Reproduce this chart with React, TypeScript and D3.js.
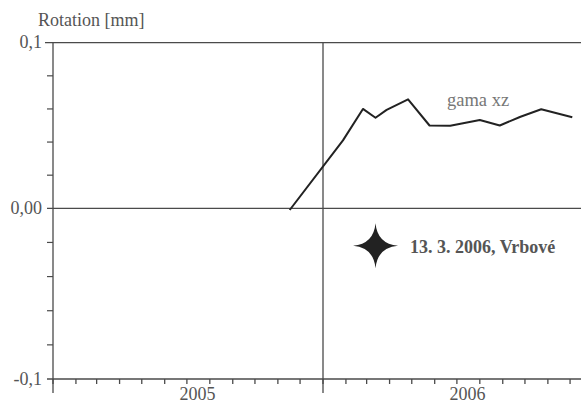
import React from "react";
import * as d3 from "d3";

// measured series (gama xz), dates + rotation values
const dates = [
  "2005-11-17",
  "2006-01-28",
  "2006-02-24",
  "2006-03-13",
  "2006-03-28",
  "2006-04-26",
  "2006-05-25",
  "2006-06-22",
  "2006-08-01",
  "2006-08-28",
  "2006-09-25",
  "2006-10-23",
  "2006-12-04",
];
const gamaXZ = [
  -0.001, 0.041, 0.06, 0.0547, 0.0594, 0.0658, 0.05, 0.0499, 0.0533, 0.05,
  0.0553, 0.0598, 0.055,
];
const years = [2005, 2006];
const yTickValues = [0.1, 0, -0.1];
const yTickLabels = ["0,1", "0,00", "-0,1"];
const eventDate = "2006-03-13";
const eventValue = -0.022;
const eventLabel = "13. 3. 2006, Vrbové";
const seriesLabel = "gama xz";
const yTitle = "Rotation [mm]";

const W = 581;
const H = 405;

export default function App() {
  const parse = d3.timeParse("%Y-%m-%d");
  const x = d3
    .scaleTime()
    .domain([new Date(2005, 0, 1), new Date(2007, 0, 1)])
    .range([53, 593]);
  const y = d3.scaleLinear().domain([-0.1, 0, 0.1]).range([379, 208.3, 42.7]);

  const pts = dates.map((d, i) => ({ date: parse(d) as Date, v: gamaXZ[i] }));
  const path = d3
    .line<{ date: Date; v: number }>()
    .x((d) => x(d.date))
    .y((d) => y(d.v))(pts);

  const months = x.ticks(d3.timeMonth.every(1) as any);
  const minor = d3.range(-0.08, 0.09, 0.02).filter((v) => Math.abs(v) > 0.001);

  const x0 = x.range()[0];
  const axisColor = "#4a4a4a";
  const textColor = "#555";
  const font = "Liberation Serif, Times New Roman, serif";

  // four-point star at the event, concave arms
  const ex = x(parse(eventDate) as Date);
  const ey = y(eventValue);
  const R = 22.5;
  const c = 2.6;
  let starPath = "";
  for (let i = 0; i < 4; i++) {
    const a = (i * Math.PI) / 2;
    const b = a + Math.PI / 4;
    const n = a + Math.PI / 2;
    const p = [ex + R * Math.sin(a), ey - R * Math.cos(a)];
    const q = [ex + c * Math.sin(b), ey - c * Math.cos(b)];
    const e = [ex + R * Math.sin(n), ey - R * Math.cos(n)];
    if (i === 0) starPath += `M${p[0]},${p[1]}`;
    starPath += `Q${q[0]},${q[1]} ${e[0]},${e[1]}`;
  }
  starPath += "Z";

  return (
    <svg
      width={W}
      height={H}
      style={{ position: "absolute", left: 0, top: 0, background: "#fff", fontFamily: font }}
    >
      {/* horizontal reference lines */}
      {yTickValues.map((v) => (
        <line
          key={"h" + v}
          x1={x0 - (v === 0.1 ? 8 : 6)}
          x2={W}
          y1={y(v)}
          y2={y(v)}
          stroke={axisColor}
          strokeWidth={1.3}
        />
      ))}
      {/* minor y ticks */}
      {minor.map((v) => (
        <line
          key={"m" + v}
          x1={x0 - 6}
          x2={x0}
          y1={y(v)}
          y2={y(v)}
          stroke={axisColor}
          strokeWidth={1.2}
        />
      ))}
      {/* left axis */}
      <line x1={x0} x2={x0} y1={y(0.1)} y2={393} stroke={axisColor} strokeWidth={1.3} />
      {/* year divider */}
      <line
        x1={x(new Date(2006, 0, 1))}
        x2={x(new Date(2006, 0, 1))}
        y1={y(0.1)}
        y2={393}
        stroke={axisColor}
        strokeWidth={1.3}
      />
      {/* month ticks */}
      {months.map((m) => (
        <line
          key={+m}
          x1={x(m)}
          x2={x(m)}
          y1={y(-0.1)}
          y2={y(-0.1) + 5}
          stroke={axisColor}
          strokeWidth={1.3}
        />
      ))}
      {/* y tick labels */}
      {yTickValues.map((v, i) => (
        <text
          key={"t" + v}
          x={42}
          y={y(v) + 5.5}
          textAnchor="end"
          fontSize={18}
          fill={textColor}
        >
          {yTickLabels[i]}
        </text>
      ))}
      <text x={38} y={26} fontSize={18} fill={textColor}>
        {yTitle}
      </text>
      {/* year labels */}
      {years.map((yr) => (
        <text
          key={yr}
          x={x(new Date(yr, 6, 10)) + 4}
          y={400}
          textAnchor="middle"
          fontSize={18}
          fill={textColor}
        >
          {yr}
        </text>
      ))}
      {/* series */}
      <path d={path ?? ""} fill="none" stroke="#222" strokeWidth={2} strokeLinejoin="round" />
      <text x={447} y={106} fontSize={18.5} fill="#777">
        {seriesLabel}
      </text>
      {/* event */}
      <path d={starPath} fill="#222" />
      <text x={410} y={252.7} fontSize={18} fontWeight="bold" fill={textColor}>
        {eventLabel}
      </text>
    </svg>
  );
}
